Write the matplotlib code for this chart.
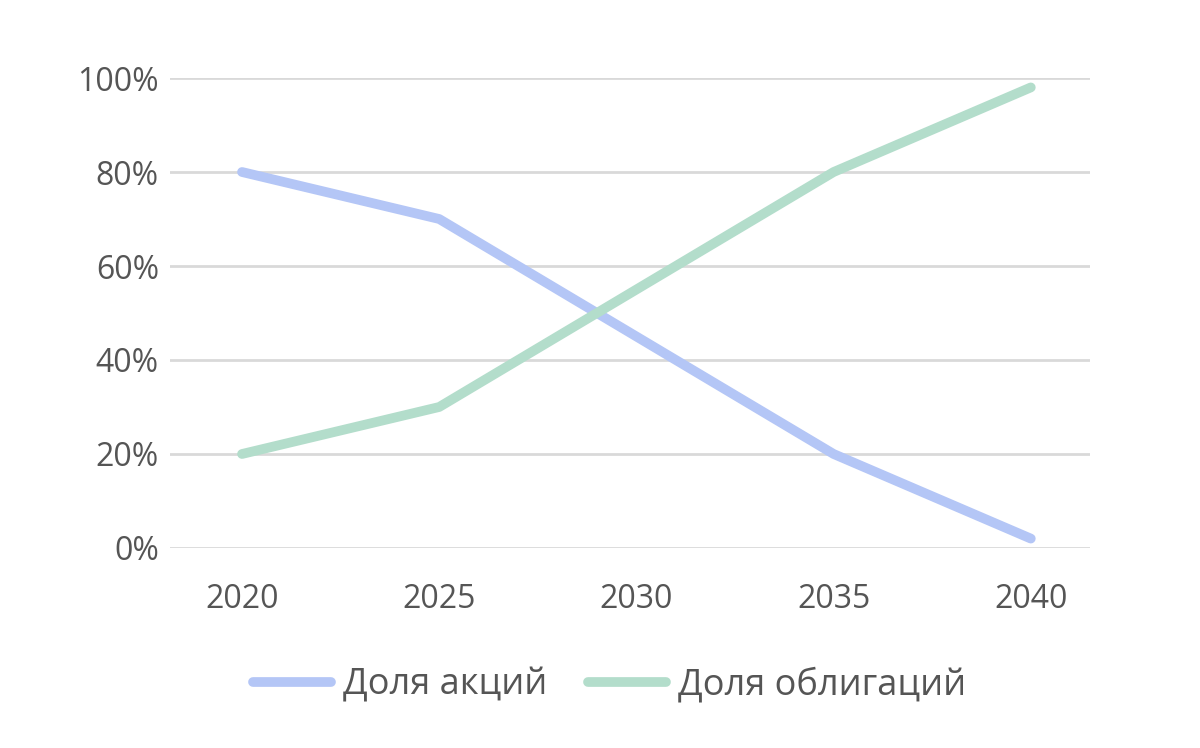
import matplotlib
matplotlib.use("Agg")
import matplotlib.pyplot as plt

years = ["2020", "2025", "2030", "2035", "2040"]
stocks = [80, 70, 45, 20, 2]     # Доля акций, %
bonds = [20, 30, 55, 80, 98]     # Доля облигаций, %
yticks = [0, 20, 40, 60, 80, 100]

plt.rcParams['font.family'] = ['Open Sans', 'DejaVu Sans']
txt = '#555555'

fig = plt.figure(figsize=(12, 7.48), dpi=100)
ax = fig.add_axes([0.1417, 0.2674, 0.7666, 0.6283])

x = range(len(years))
ax.plot(x, stocks, color='#B4C6F6', lw=7, solid_capstyle='round',
        solid_joinstyle='round', label='Доля акций', zorder=3)
ax.plot(x, bonds, color='#B3DDCB', lw=7, solid_capstyle='round',
        solid_joinstyle='round', label='Доля облигаций', zorder=3)

ax.set_xlim(-0.365, 4.30)
ax.set_ylim(0, 100)
ax.set_xticks(list(x))
ax.set_xticklabels(years)
ax.set_yticks(yticks)
ax.set_yticklabels([f"{v}%" for v in yticks])
ax.tick_params(axis='both', length=0, labelsize=23, labelcolor=txt)
ax.tick_params(axis='x', pad=25)
ax.tick_params(axis='y', pad=8)
ax.grid(axis='y', color='#D9D9D9', lw=2)
ax.set_axisbelow(True)
for s in ax.spines.values():
    s.set_visible(False)

leg = fig.legend(loc='center', bbox_to_anchor=(0.508, 0.084), ncol=2,
                 frameon=False, fontsize=26, handlelength=2.15,
                 handletextpad=0.33, columnspacing=1.15)
for t in leg.get_texts():
    t.set_color(txt)

fig.savefig("out.png", dpi=100)
